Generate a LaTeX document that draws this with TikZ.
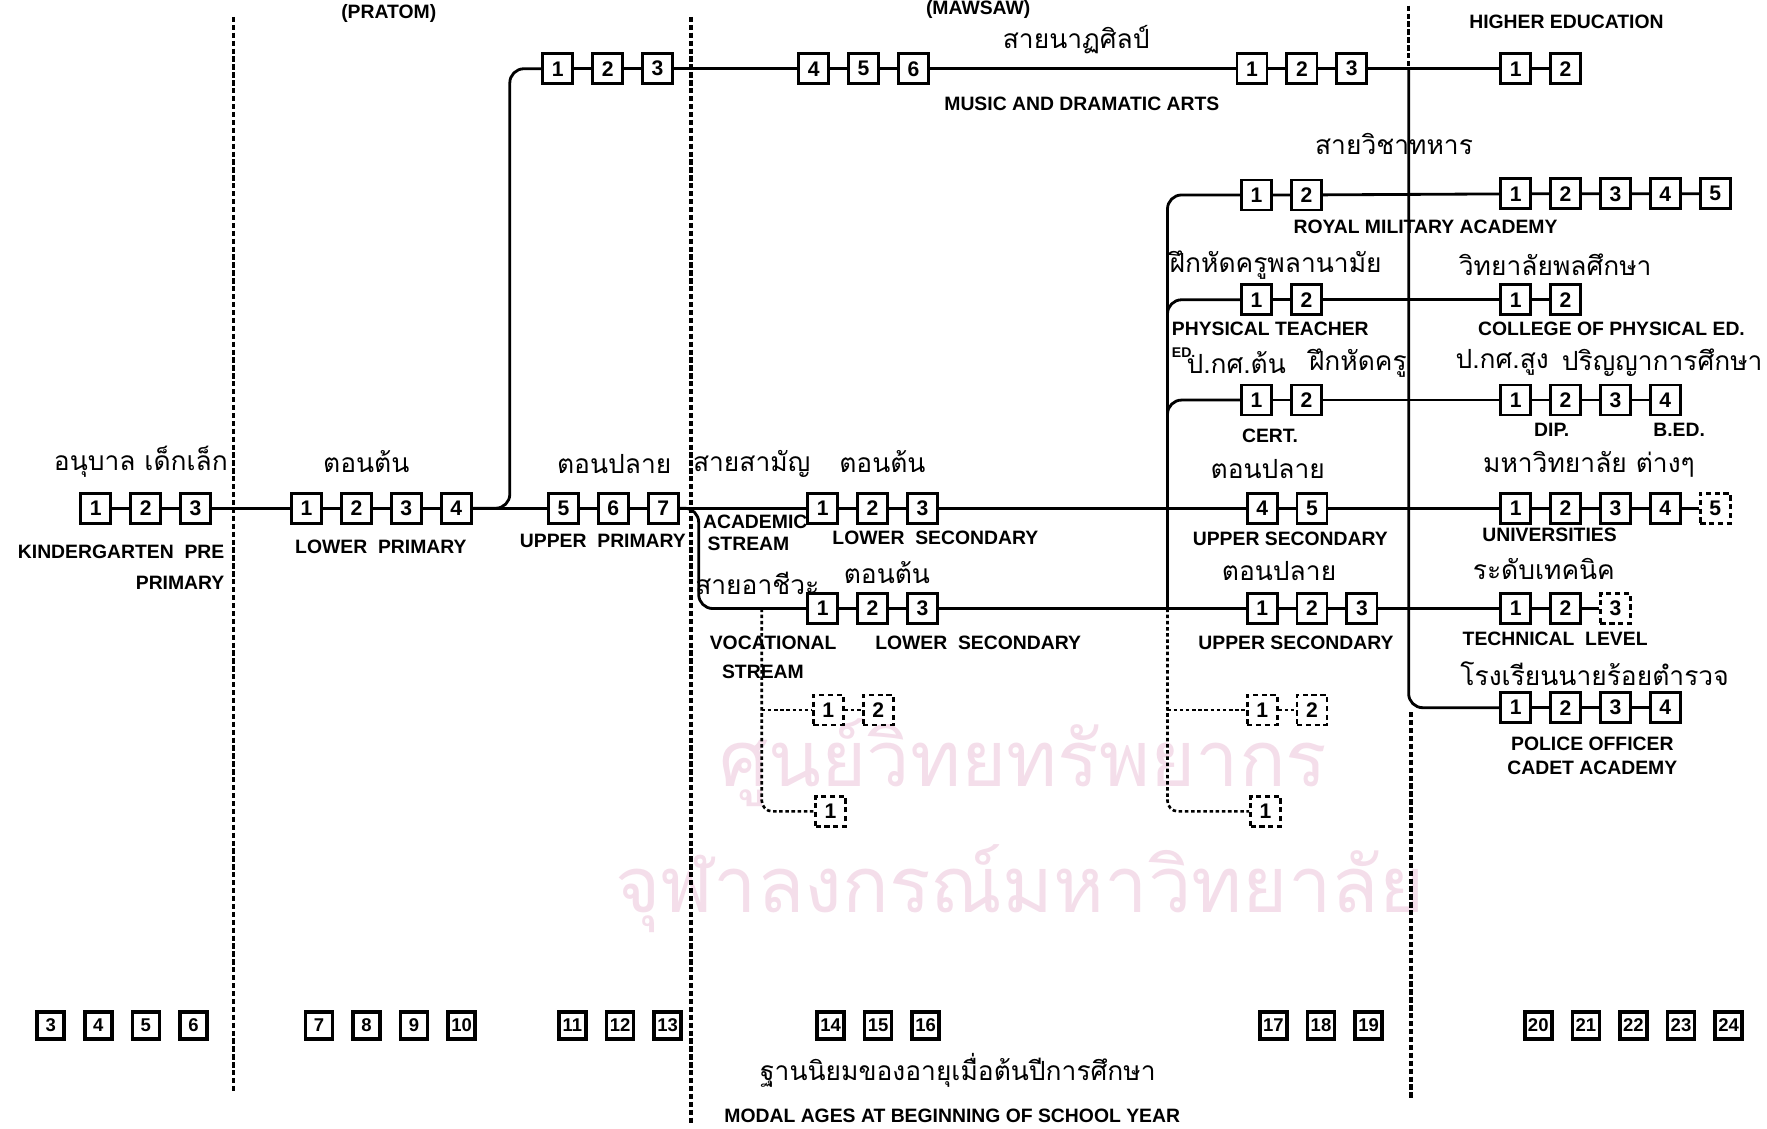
\documentclass[tikz,border=0pt]{standalone}
\usepackage{fontspec}
\setmainfont{Liberation Sans}
\newfontfamily\thaifont[Script=Thai]{Loma}
\usepackage{xcolor}
\usetikzlibrary{positioning,calc}
\definecolor{wmark}{RGB}{244,222,234}

\begin{document}
\begin{tikzpicture}[
  x=0.0225cm, y=-0.0225cm,
  node distance=0.3cm and 0.34cm,
  yr/.style={draw, line width=1.6pt, minimum size=0.6cm, inner sep=0pt, font=\fontsize{12}{12}\selectfont\bfseries},
  dyr/.style={yr, dash pattern=on 3pt off 2pt},
  age/.style={draw, line width=2pt, minimum size=0.54cm, inner sep=0pt, font=\fontsize{10.5}{10.5}\selectfont\bfseries},
  lab/.style={font=\fontsize{11}{12}\selectfont\bfseries, inner sep=1pt},
  th/.style={font=\thaifont\fontsize{15}{16}\selectfont, inner sep=1pt},
  wm/.style={font=\thaifont\fontsize{44}{44}\selectfont, text=wmark, inner sep=0pt, anchor=base, text depth=0pt},
  ln/.style={line width=1.6pt},
  sep/.style={line width=2pt, dash pattern=on 3pt off 1.5pt},
  dl/.style={line width=1.5pt, dash pattern=on 2pt off 1.5pt}
]
  \useasboundingbox (0,0) rectangle (1568,1001);

  % watermark of the scan
  \node[wm] (wm1) at (908,698) {ศูนย์วิทยทรัพยากร};
  \node[wm] (wm2) at (905,810) {จุฬาลงกรณ์มหาวิทยาลัย};

  % level separators
  \draw[sep] (207,15) -- (207,970);
  \draw[sep] (613,15) -- (613,998);
  \coordinate (hb) at (1250,61);
  \draw[sep] (1250,5) -- (hb);
  \draw[sep] (1252,632) -- (1252,975);

  % headings
  \node[lab] (hpr) at (345,12) {(PRATOM)};
  \node[lab] (hms) at (868,8) {(MAWSAW)};
  \node[lab] (hhe) at (1390,19) {HIGHER EDUCATION};

  % pre-primary
  \node[yr] (kg1) at (85,451) {1};
  \node[yr, right=of kg1] (kg2) {2};
  \node[yr, right=of kg2] (kg3) {3};
  \node[th] (tkg) at (125,410) {อนุบาล เด็กเล็ก};
  \node[lab, anchor=east] (lkg) at (201,490) {KINDERGARTEN \ PRE};
  \node[lab, anchor=east] (lkg2) at (201,517) {PRIMARY};

  % primary
  \node[yr] (lp1) at (272,451) {1};
  \node[yr, right=of lp1] (lp2) {2};
  \node[yr, right=of lp2] (lp3) {3};
  \node[yr, right=of lp3] (lp4) {4};
  \node[th] (tlp) at (325,410) {ตอนต้น};
  \node[lab] (llp) at (338,485) {LOWER \ PRIMARY};
  \node[yr] (up5) at (500,451) {5};
  \node[yr, right=of up5] (up6) {6};
  \node[yr, right=of up6] (up7) {7};
  \node[th] (tup) at (545,412) {ตอนปลาย};
  \node[lab] (lup) at (535,480) {UPPER \ PRIMARY};

  % music and dramatic arts
  \node[yr] (ms1) at (495,61) {1};
  \node[yr, right=of ms1] (ms2) {2};
  \node[yr, right=of ms2] (ms3) {3};
  \node[yr] (ms4) at (722,61) {4};
  \node[yr, right=of ms4] (ms5) {5};
  \node[yr, right=of ms5] (ms6) {6};
  \node[yr] (mu1) at (1111,61) {1};
  \node[yr, right=of mu1] (mu2) {2};
  \node[yr, right=of mu2] (mu3) {3};
  \node[yr] (he1) at (1345,61) {1};
  \node[yr, right=of he1] (he2) {2};
  \node[th] (tms) at (955,35) {สายนาฏศิลป์};
  \node[lab] (lms) at (960,92) {MUSIC AND DRAMATIC ARTS};

  % lower secondary
  \node[yr] (ac1) at (730,451) {1};
  \node[yr, right=of ac1] (ac2) {2};
  \node[yr, right=of ac2] (ac3) {3};
  \node[th] (tac) at (667,412) {สายสามัญ};
  \node[th] (tac2) at (783,410) {ตอนต้น};
  \node[lab, anchor=west] (lac) at (622,463) {ACADEMIC};
  \node[lab, anchor=west] (lac2) at (626,483) {STREAM};
  \node[lab] (lls) at (830,477) {LOWER \ SECONDARY};
  \node[yr] (vo1) at (730,540) {1};
  \node[yr, right=of vo1] (vo2) {2};
  \node[yr, right=of vo2] (vo3) {3};
  \node[th] (tvo) at (787,508) {ตอนต้น};
  \node[th] (tvo2) at (672,518) {สายอาชีวะ};
  \node[lab, anchor=west] (lvo) at (628,570) {VOCATIONAL};
  \node[lab] (lvo2) at (677,596) {STREAM};
  \node[lab] (lls2) at (868,570) {LOWER \ SECONDARY};
  \node[dyr] (vx1) at (735,630) {1};
  \node[dyr, right=of vx1] (vx2) {2};
  \node[dyr] (vy1) at (737,720) {1};

  % upper secondary
  \node[yr] (mla1) at (1115,173) {1};
  \node[yr, right=of mla1] (mla2) {2};
  \node[yr] (pel1) at (1115,266) {1};
  \node[yr, right=of pel1] (pel2) {2};
  \node[yr] (cel1) at (1115,355) {1};
  \node[yr, right=of cel1] (cel2) {2};
  \node[yr] (us4) at (1120,451) {4};
  \node[yr, right=of us4] (us5) {5};
  \node[yr] (vu1) at (1120,540) {1};
  \node[yr, right=of vu1] (vu2) {2};
  \node[yr, right=of vu2] (vu3) {3};
  \node[dyr] (wx1) at (1120,630) {1};
  \node[dyr, right=of wx1] (wx2) {2};
  \node[dyr] (wy1) at (1123,720) {1};
  \node[th] (tmi) at (1237,128) {สายวิชาทหาร};
  \node[lab] (lmi) at (1265,201) {ROYAL MILITARY ACADEMY};
  \node[th] (tpe) at (1132,235) {ฝึกหัดครูพลานามัย};
  \node[lab, anchor=west] (lpe) at (1038,292) {PHYSICAL TEACHER};
  \node[font=\fontsize{8}{8}\selectfont\bfseries, inner sep=1pt, anchor=west] (lpe2) at (1038,313) {ED.};
  \node[th] (tce) at (1097,322) {ป.กศ.ต้น};
  \node[th] (tce2) at (1205,322) {ฝึกหัดครู};
  \node[lab] (lce) at (1127,387) {CERT.};
  \node[th] (tus) at (1125,416) {ตอนปลาย};
  \node[lab] (lus) at (1145,478) {UPPER SECONDARY};
  \node[th] (tvu) at (1135,507) {ตอนปลาย};
  \node[lab] (lvu) at (1150,570) {UPPER SECONDARY};

  % higher education
  \node[yr] (mlb1) at (1345,172) {1};
  \node[yr, right=of mlb1] (mlb2) {2};
  \node[yr, right=of mlb2] (mlb3) {3};
  \node[yr, right=of mlb3] (mlb4) {4};
  \node[yr, right=of mlb4] (mlb5) {5};
  \node[yr] (per1) at (1345,266) {1};
  \node[yr, right=of per1] (per2) {2};
  \node[yr] (cer1) at (1345,355) {1};
  \node[yr, right=of cer1] (cer2) {2};
  \node[yr, right=of cer2] (cer3) {3};
  \node[yr, right=of cer3] (cer4) {4};
  \node[yr] (un1) at (1345,451) {1};
  \node[yr, right=of un1] (un2) {2};
  \node[yr, right=of un2] (un3) {3};
  \node[yr, right=of un3] (un4) {4};
  \node[dyr, right=of un4] (un5) {5};
  \node[yr] (te1) at (1345,540) {1};
  \node[yr, right=of te1] (te2) {2};
  \node[dyr, right=of te2] (te3) {3};
  \node[yr] (po1) at (1345,628) {1};
  \node[yr, right=of po1] (po2) {2};
  \node[yr, right=of po2] (po3) {3};
  \node[yr, right=of po3] (po4) {4};
  \node[th] (tpr) at (1380,235) {วิทยาลัยพลศึกษา};
  \node[lab] (lpr) at (1430,292) {COLLEGE OF PHYSICAL ED.};
  \node[th] (tcr) at (1333,322) {ป.กศ.สูง};
  \node[th] (tcr2) at (1475,322) {ปริญญาการศึกษา};
  \node[lab] (lcr) at (1377,381) {DIP.};
  \node[lab] (lcr2) at (1490,381) {B.ED.};
  \node[th] (tun) at (1410,412) {มหาวิทยาลัย ต่างๆ};
  \node[lab] (lun) at (1375,475) {UNIVERSITIES};
  \node[th] (tte) at (1370,505) {ระดับเทคนิค};
  \node[lab] (lte) at (1380,567) {TECHNICAL \ LEVEL};
  \node[th] (tpo) at (1415,598) {โรงเรียนนายร้อยตำรวจ};
  \node[lab] (lpo) at (1413,660) {POLICE OFFICER};
  \node[lab] (lpo2) at (1413,681) {CADET ACADEMY};

  % modal ages
  \node[age] (a3) at (45,910) {3};
  \node[age, right=of a3] (a4) {4};
  \node[age, right=of a4] (a5) {5};
  \node[age, right=of a5] (a6) {6};
  \node[age] (a7) at (283,910) {7};
  \node[age, right=of a7] (a8) {8};
  \node[age, right=of a8] (a9) {9};
  \node[age, right=of a9] (a10) {10};
  \node[age] (a11) at (508,910) {11};
  \node[age, right=of a11] (a12) {12};
  \node[age, right=of a12] (a13) {13};
  \node[age] (a14) at (737,910) {14};
  \node[age, right=of a14] (a15) {15};
  \node[age, right=of a15] (a16) {16};
  \node[age] (a17) at (1130,910) {17};
  \node[age, right=of a17] (a18) {18};
  \node[age, right=of a18] (a19) {19};
  \node[age] (a20) at (1365,910) {20};
  \node[age, right=of a20] (a21) {21};
  \node[age, right=of a21] (a22) {22};
  \node[age, right=of a22] (a23) {23};
  \node[age, right=of a23] (a24) {24};
  \node[th] (tag) at (850,950) {ฐานนิยมของอายุเมื่อต้นปีการศึกษา};
  \node[lab] (lag) at (845,990) {MODAL AGES AT BEGINNING OF SCHOOL YEAR};

  % connectors
  \coordinate (jp) at ($(lp4.east)!.5!(up5.west)$);
  \coordinate (js) at (620,451);
  \coordinate (vb) at (1036,540);
  \coordinate (vs) at (676,540);
  \draw[ln] (kg1) -- (kg2) -- (kg3) -- (lp1) -- (lp2) -- (lp3) -- (lp4) -- (up5) -- (up6) -- (up7)
    -- (ac1) -- (ac2) -- (ac3) -- (us4) -- (us5) -- (un1) -- (un2) -- (un3) -- (un4) -- (un5);
  \draw[ln, rounded corners=8pt] (lp4.east) -- (jp) |- (ms1.west);
  \draw[ln] (ms1) -- (ms2) -- (ms3) -- (ms4) -- (ms5) -- (ms6) -- (mu1) -- (mu2) -- (mu3) -- (he1) -- (he2);
  \draw[ln, rounded corners=8pt] (up7.east) -- (js) |- (vo1.west);
  \draw[ln] (vo1) -- (vo2) -- (vo3) -- (vu1) -- (vu2) -- (vu3) -- (te1) -- (te2) -- (te3);
  \draw[ln, rounded corners=8pt] (mla1.west) -| (vb);
  \draw[ln, rounded corners=8pt] (pel1.west) -| (vb);
  \draw[ln, rounded corners=8pt] (cel1.west) -| (vb);
  \draw[ln] (mla1) -- (mla2) -- (mlb1) -- (mlb2) -- (mlb3) -- (mlb4) -- (mlb5);
  \draw[ln] (pel1) -- (pel2) -- (per1) -- (per2);
  \draw[ln] (cel1) -- (cel2) -- (cer1) -- (cer2) -- (cer3) -- (cer4);
  \draw[ln, rounded corners=8pt] (hb) |- (po1.west);
  \draw[ln] (po1) -- (po2) -- (po3) -- (po4);
  \draw[dl, rounded corners=6pt] (vs) |- (vy1.west);
  \draw[dl] (vs |- vx1) -- (vx1) -- (vx2);
  \draw[dl, rounded corners=6pt] (vb) |- (wy1.west);
  \draw[dl] (vb |- wx1) -- (wx1) -- (wx2);
\end{tikzpicture}
\end{document}
